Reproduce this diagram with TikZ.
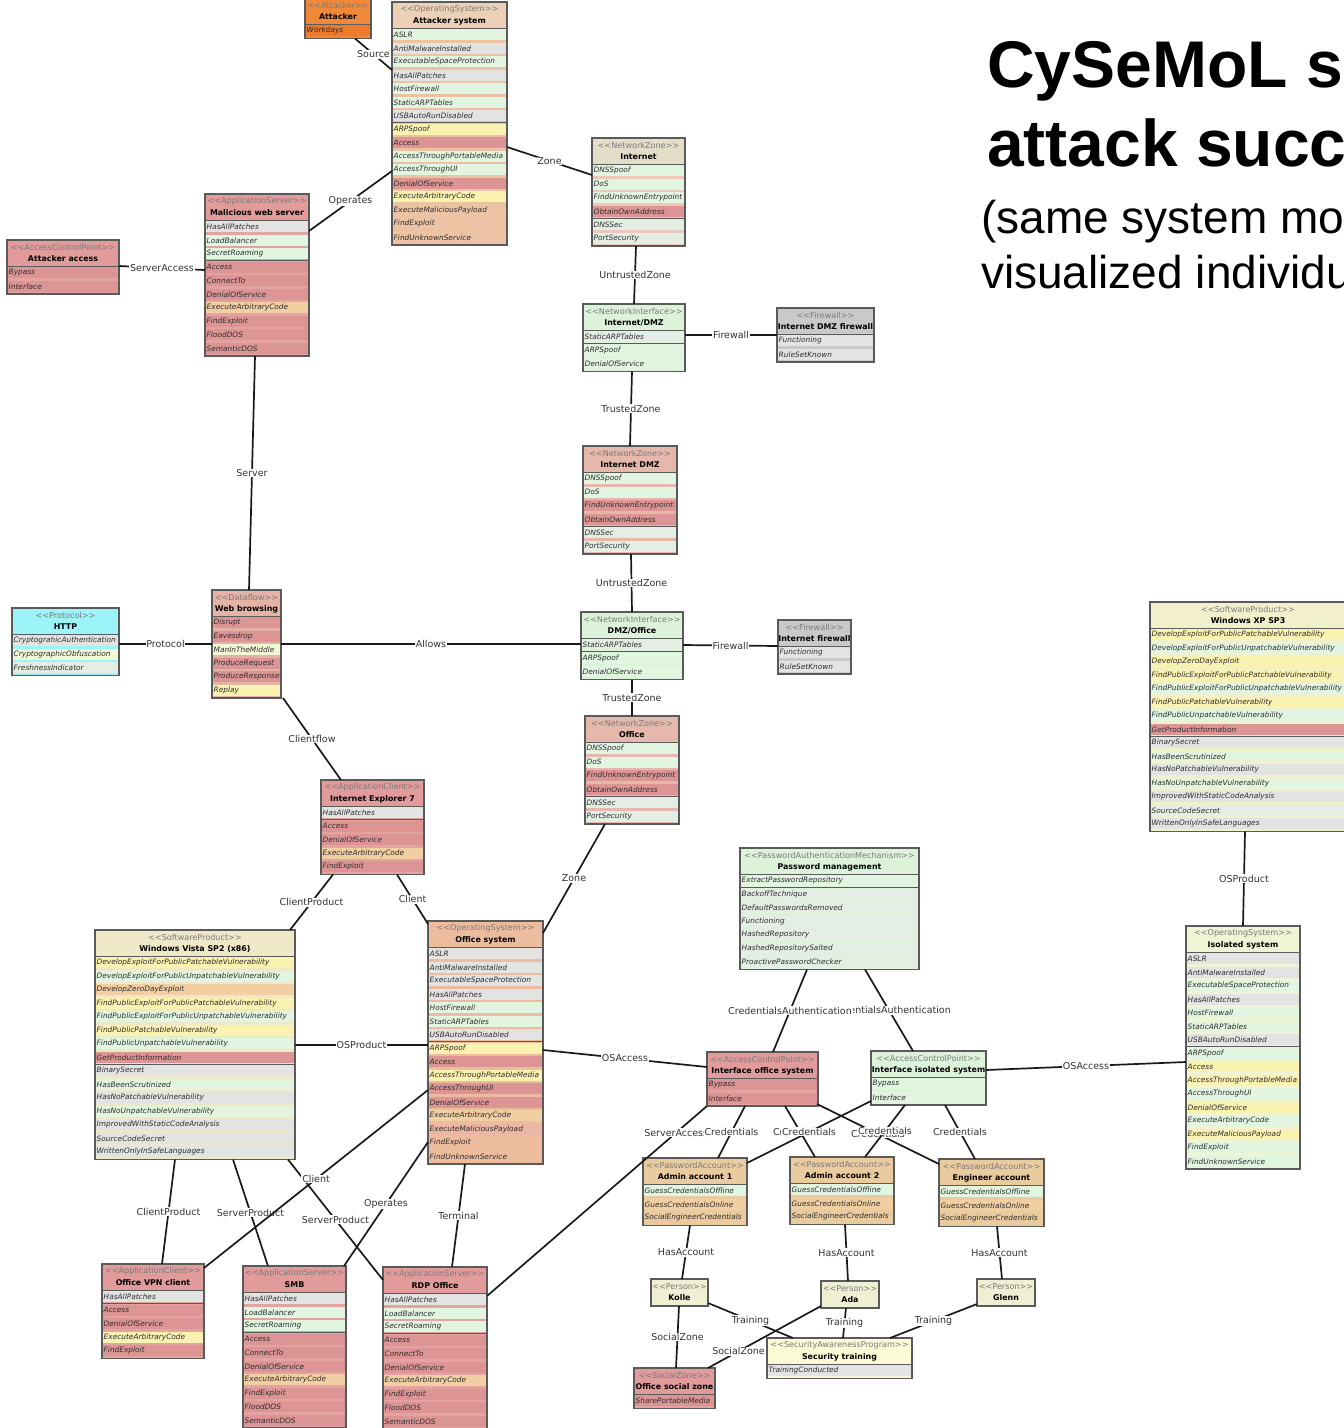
\documentclass[tikz,border=0pt]{standalone}
\usepackage{fontspec}
\usetikzlibrary{calc}
\newfontfamily\boxfont{DejaVu Sans}
\newfontfamily\headfont{Liberation Sans}

% row band colours
\definecolor{rowlg}{HTML}{E2F5E0}
\definecolor{rowgr}{HTML}{E3E3E3}
\definecolor{rowgg}{HTML}{E4EEE4}
\definecolor{rowyl}{HTML}{F9F2B0}
\definecolor{rowrd}{HTML}{DD9494}
\definecolor{rowor}{HTML}{F1CFA3}
\definecolor{rowtn}{HTML}{EDC3A5}
\definecolor{rowly}{HTML}{F3F7D6}
\definecolor{rowsl}{HTML}{EBB6A6}
\definecolor{rowog}{HTML}{F07A2A}
% box body / header colours
\definecolor{orangebody}{HTML}{F0883A}
\definecolor{tanbody}{HTML}{EBC3A3}
\definecolor{tanhead}{HTML}{EDD1B6}
\definecolor{redbody}{HTML}{E3A3A1}
\definecolor{redhead}{HTML}{E09B9A}
\definecolor{zonehead}{HTML}{E4DDC8}
\definecolor{zonebody}{HTML}{EAC9BA}
\definecolor{greenbody}{HTML}{DCF3DA}
\definecolor{greybody}{HTML}{C9C9C9}
\definecolor{salmonbody}{HTML}{E6B8AB}
\definecolor{cyanbody}{HTML}{9CF3F8}
\definecolor{webbody}{HTML}{E5B3A6}
\definecolor{vistabody}{HTML}{EFE8C6}
\definecolor{offsysbody}{HTML}{EDBC9F}
\definecolor{xpbody}{HTML}{F2F0CA}
\definecolor{isobody}{HTML}{F1F4D4}
\definecolor{accbody}{HTML}{E9CB9F}
\definecolor{personbody}{HTML}{F1EFD3}
\definecolor{trainbody}{HTML}{FBFAD7}
\definecolor{edgeink}{HTML}{5A5A5A}
\definecolor{linkink}{HTML}{1A1A1A}
\definecolor{labink}{HTML}{333333}
\definecolor{rowink}{HTML}{2E2E2E}
\definecolor{stink}{HTML}{7A7A7A}

\tikzset{
  rowtext/.style={anchor=west, inner sep=0pt, text=rowink,
    font=\boxfont\itshape\fontsize{7.4}{8}\selectfont},
  stereo/.style={inner sep=0pt, text=stink, font=\boxfont\fontsize{8.1}{9}\selectfont},
  boxtitle/.style={inner sep=0pt, text=black, font=\boxfont\bfseries\fontsize{7.9}{9}\selectfont},
  divider/.style={draw=edgeink, line width=1pt},
  boxedge/.style={draw=edgeink, line width=1.3pt},
  link/.style={draw=linkink, line width=1.7pt},
  lab/.style={fill=white, inner sep=0.8pt, text=labink,
    font=\boxfont\fontsize{9.5}{10}\selectfont},
}

\newcount\nrows
\def\rowpitch{13.5}
% #1 name, #2 top-left x,y, #3 width, #4 body colour, #5 header colour,
% #6 separator after row k (0 = none), #7 stereotype, #8 title, #9 rows colour/text
\newcommand\umlbox[9]{%
  \global\nrows=0
  \if\relax\detokenize{#9}\relax\else
    \foreach \rc/\rt in {#9}{\global\advance\nrows by 1}%
  \fi
  \pgfmathsetmacro\boxh{27+\the\nrows*\rowpitch}%
  \begin{scope}[shift={(#2)}]
    \node[inner sep=0pt, outer sep=0pt, minimum width=#3pt,
      minimum height=\boxh pt, anchor=north west] (#1) at (0,0) {};
    \begin{scope}
      \clip (0,0) rectangle (#3,\boxh);
      \fill[#4] (0,0) rectangle (#3,\boxh);
      \fill[#5] (0,0) rectangle (#3,26);
      \if\relax\detokenize{#9}\relax\else
      \foreach \rc/\rt [count=\ri] in {#9}{
        \fill[\rc] (0,{26+(\ri-1)*\rowpitch+1.2}) rectangle (#3,{26+\ri*\rowpitch-1.3});
        \node[rowtext] at (1.5,{26+(\ri-0.5)*\rowpitch}) {\rt};
      }
      \fi
      \node[stereo] at ({#3/2},7.5) {\textless\kern0pt\textless#7\textgreater\kern0pt\textgreater};
      \node[boxtitle] at ({#3/2},19) {#8};
    \end{scope}
    \ifnum\nrows>0 \draw[divider] (0,26) -- (#3,26);\fi
    \ifnum#6>0 \draw[divider] (0,{26+#6*\rowpitch}) -- (#3,{26+#6*\rowpitch});\fi
    \draw[boxedge] (0,0) rectangle (#3,\boxh);
  \end{scope}
}

% connector: [label position] anchor A, offset A, anchor B, offset B, label
\newcommand\conn[6][0.5]{%
  \draw[link] ($(#2)+(#3)$) -- node[lab, pos=#1]{#6} ($(#4)+(#5)$);
}

\begin{document}
\begin{tikzpicture}[x=1pt,y=-1pt]
\useasboundingbox (0,0) rectangle (1344,1428);
\clip (0,0) rectangle (1344,1428);
\fill[white] (0,0) rectangle (1344,1428);

% ---------- heading ----------
\node[anchor=base west, inner sep=0pt, font=\headfont\bfseries\fontsize{66}{66}\selectfont] (h1) at (987,87) {CySeMoL s};
\node[anchor=base west, inner sep=0pt, font=\headfont\bfseries\fontsize{66}{66}\selectfont] (h2) at (987,166) {attack succ};
\node[anchor=base west, inner sep=0pt, font=\headfont\fontsize{46}{46}\selectfont] (h3) at (981,233) {(same system mo};
\node[anchor=base west, inner sep=0pt, font=\headfont\fontsize{46}{46}\selectfont] (h4) at (981,288) {visualized individu};

% ---------- attacker side ----------
\umlbox{attacker}{305,-2}{66}{orangebody}{orangebody}{0}{Attacker}{Attacker}{rowog/Workdays}
\umlbox{attsys}{392,2}{115}{tanbody}{tanhead}{7}{OperatingSystem}{Attacker system}{rowlg/ASLR, rowgr/AntiMalwareInstalled, rowlg/ExecutableSpaceProtection, rowgr/HasAllPatches, rowlg/HostFirewall, rowlg/StaticARPTables, rowgr/USBAutoRunDisabled, rowyl/ARPSpoof, rowrd/Access, rowlg/AccessThroughPortableMedia, rowlg/AccessThroughUI, rowrd/DenialOfService, rowyl/ExecuteArbitraryCode, rowtn/ExecuteMaliciousPayload, rowtn/FindExploit, rowtn/FindUnknownService}
\umlbox{mws}{205,194}{104}{redbody}{redhead}{3}{ApplicationServer}{Malicious web server}{rowgr/HasAllPatches, rowlg/LoadBalancer, rowlg/SecretRoaming, rowrd/Access, rowrd/ConnectTo, rowrd/DenialOfService, rowor/ExecuteArbitraryCode, rowrd/FindExploit, rowrd/FloodDOS, rowrd/SemanticDOS}
\umlbox{attacc}{7,240}{112}{redbody}{redhead}{0}{AccessControlPoint}{Attacker access}{rowrd/Bypass, rowrd/Interface}

% ---------- network chain ----------
\umlbox{internet}{592,138}{93}{zonebody}{zonehead}{4}{NetworkZone}{Internet}{rowlg/DNSSpoof, rowlg/DoS, rowlg/FindUnknownEntrypoint, rowrd/ObtainOwnAddress, rowgg/DNSSec, rowgg/PortSecurity}
\umlbox{inetdmzif}{583,304}{102}{greenbody}{greenbody}{1}{NetworkInterface}{Internet/DMZ}{rowgg/StaticARPTables, rowlg/ARPSpoof, rowlg/DenialOfService}
\umlbox{fwdmz}{777,308}{97}{greybody}{greybody}{0}{Firewall}{Internet DMZ firewall}{rowgr/Functioning, rowgr/RuleSetKnown}
\umlbox{inetdmz}{583,446}{94}{salmonbody}{salmonbody}{4}{NetworkZone}{Internet DMZ}{rowlg/DNSSpoof, rowlg/DoS, rowrd/FindUnknownEntrypoint, rowrd/ObtainOwnAddress, rowgg/DNSSec, rowgg/PortSecurity}
\umlbox{dmzoff}{581,612}{102}{greenbody}{greenbody}{1}{NetworkInterface}{DMZ/Office}{rowgg/StaticARPTables, rowlg/ARPSpoof, rowlg/DenialOfService}
\umlbox{fwinet}{778,620}{73}{greybody}{greybody}{0}{Firewall}{Internet firewall}{rowgr/Functioning, rowgr/RuleSetKnown}
\umlbox{office}{585,716}{94}{salmonbody}{salmonbody}{4}{NetworkZone}{Office}{rowlg/DNSSpoof, rowlg/DoS, rowrd/FindUnknownEntrypoint, rowrd/ObtainOwnAddress, rowgg/DNSSec, rowgg/PortSecurity}

% ---------- data flow ----------
\umlbox{http}{12,608}{107}{cyanbody}{cyanbody}{0}{Protocol}{HTTP}{rowgr/CryptograhicAuthentication, rowly/CryptographicObfuscation, rowgg/FreshnessIndicator}
\umlbox{webbrowse}{212,590}{69}{webbody}{webbody}{0}{Dataflow}{Web browsing}{rowrd/Disrupt, rowrd/Eavesdrop, rowly/ManInTheMiddle, rowrd/ProduceRequest, rowrd/ProduceResponse, rowyl/Replay}
\umlbox{ie7}{321,780}{103}{redbody}{redhead}{1}{ApplicationClient}{Internet Explorer 7}{rowgr/HasAllPatches, rowrd/Access, rowrd/DenialOfService, rowor/ExecuteArbitraryCode, rowrd/FindExploit}

% ---------- office host ----------
\umlbox{vista}{95,930}{200}{vistabody}{vistabody}{8}{SoftwareProduct}{Windows Vista SP2 (x86)}{rowyl/DevelopExploitForPublicPatchableVulnerability, rowlg/DevelopExploitForPublicUnpatchableVulnerability, rowor/DevelopZeroDayExploit, rowyl/FindPublicExploitForPublicPatchableVulnerability, rowlg/FindPublicExploitForPublicUnpatchableVulnerability, rowyl/FindPublicPatchableVulnerability, rowlg/FindPublicUnpatchableVulnerability, rowrd/GetProductInformation, rowgr/BinarySecret, rowlg/HasBeenScrutinized, rowgr/HasNoPatchableVulnerability, rowlg/HasNoUnpatchableVulnerability, rowgr/ImprovedWithStaticCodeAnalysis, rowgr/SourceCodeSecret, rowgr/WrittenOnlyInSafeLanguages}
\umlbox{offsys}{428,921}{115}{offsysbody}{offsysbody}{7}{OperatingSystem}{Office system}{rowgr/ASLR, rowgr/AntiMalwareInstalled, rowgr/ExecutableSpaceProtection, rowgr/HasAllPatches, rowlg/HostFirewall, rowlg/StaticARPTables, rowgr/USBAutoRunDisabled, rowyl/ARPSpoof, rowrd/Access, rowyl/AccessThroughPortableMedia, rowrd/AccessThroughUI, rowrd/DenialOfService, rowor/ExecuteArbitraryCode, rowsl/ExecuteMaliciousPayload, offsysbody/FindExploit, offsysbody/FindUnknownService}
\umlbox{vpn}{102,1264}{102}{redbody}{redhead}{1}{ApplicationClient}{Office VPN client}{rowgr/HasAllPatches, rowrd/Access, rowrd/DenialOfService, rowyl/ExecuteArbitraryCode, rowrd/FindExploit}
\umlbox{smb}{243,1266}{103}{redbody}{redhead}{3}{ApplicationServer}{SMB}{rowgr/HasAllPatches, rowlg/LoadBalancer, rowlg/SecretRoaming, rowrd/Access, rowrd/ConnectTo, rowrd/DenialOfService, rowor/ExecuteArbitraryCode, rowrd/FindExploit, rowrd/FloodDOS, rowrd/SemanticDOS}
\umlbox{rdp}{383,1267}{104}{redbody}{redhead}{3}{ApplicationServer}{RDP Office}{rowgr/HasAllPatches, rowlg/LoadBalancer, rowlg/SecretRoaming, rowrd/Access, rowrd/ConnectTo, rowrd/DenialOfService, rowor/ExecuteArbitraryCode, rowrd/FindExploit, rowrd/FloodDOS, rowrd/SemanticDOS}

% ---------- authentication ----------
\umlbox{pwm}{740,848}{179}{greenbody}{greenbody}{1}{PasswordAuthenticationMechanism}{Password management}{rowlg/ExtractPasswordRepository, rowgg/BackoffTechnique, rowgg/DefaultPasswordsRemoved, rowgg/Functioning, rowgg/HashedRepository, rowgg/HashedRepositorySalted, rowgg/ProactivePasswordChecker}
\umlbox{ios}{707,1052}{111}{redbody}{redhead}{0}{AccessControlPoint}{Interface office system}{rowrd/Bypass, rowrd/Interface}
\umlbox{iis}{871,1051}{115}{greenbody}{greenbody}{0}{AccessControlPoint}{Interface isolated system}{rowlg/Bypass, rowlg/Interface}

% ---------- isolated host ----------
\umlbox{xp}{1150,602}{196}{xpbody}{xpbody}{8}{SoftwareProduct}{Windows XP SP3}{rowyl/DevelopExploitForPublicPatchableVulnerability, rowlg/DevelopExploitForPublicUnpatchableVulnerability, rowyl/DevelopZeroDayExploit, rowyl/FindPublicExploitForPublicPatchableVulnerability, rowlg/FindPublicExploitForPublicUnpatchableVulnerability, rowyl/FindPublicPatchableVulnerability, rowlg/FindPublicUnpatchableVulnerability, rowrd/GetProductInformation, rowgr/BinarySecret, rowlg/HasBeenScrutinized, rowgr/HasNoPatchableVulnerability, rowlg/HasNoUnpatchableVulnerability, rowgr/ImprovedWithStaticCodeAnalysis, rowgg/SourceCodeSecret, rowgr/WrittenOnlyInSafeLanguages}
\umlbox{isosys}{1186,926}{114}{isobody}{isobody}{7}{OperatingSystem}{Isolated system}{rowgr/ASLR, rowgr/AntiMalwareInstalled, rowlg/ExecutableSpaceProtection, rowgr/HasAllPatches, rowlg/HostFirewall, rowlg/StaticARPTables, rowgr/USBAutoRunDisabled, rowlg/ARPSpoof, rowyl/Access, rowyl/AccessThroughPortableMedia, rowlg/AccessThroughUI, rowyl/DenialOfService, rowlg/ExecuteArbitraryCode, rowyl/ExecuteMaliciousPayload, rowlg/FindExploit, rowlg/FindUnknownService}

% ---------- accounts and people ----------
\umlbox{adm1}{643,1158}{104}{accbody}{accbody}{0}{PasswordAccount}{Admin account 1}{rowlg/GuessCredentialsOffline, rowor/GuessCredentialsOnline, accbody/SocialEngineerCredentials}
\umlbox{adm2}{790,1157}{104}{accbody}{accbody}{0}{PasswordAccount}{Admin account 2}{rowlg/GuessCredentialsOffline, rowor/GuessCredentialsOnline, accbody/SocialEngineerCredentials}
\umlbox{eng}{939,1159}{105}{accbody}{accbody}{0}{PasswordAccount}{Engineer account}{rowlg/GuessCredentialsOffline, rowor/GuessCredentialsOnline, accbody/SocialEngineerCredentials}
\umlbox{kolle}{651,1279}{57}{personbody}{personbody}{0}{Person}{Kolle}{}
\umlbox{ada}{821,1281}{58}{personbody}{personbody}{0}{Person}{Ada}{}
\umlbox{glenn}{977,1279}{58}{personbody}{personbody}{0}{Person}{Glenn}{}
\umlbox{sectrain}{767,1338}{145}{trainbody}{trainbody}{0}{SecurityAwarenessProgram}{Security training}{rowgr/TrainingConducted}
\umlbox{socz}{634,1368}{81}{redbody}{redhead}{0}{SocialZone}{Office social zone}{rowrd/SharePortableMedia}

% ---------- connectors ----------
\conn{attacker.south west}{50,0}{attsys.north west}{0,68}{Source}
\conn{mws.north east}{0,37}{attsys.north west}{0,169}{Operates}
\conn{attsys.north east}{0,145}{internet.north west}{0,37}{Zone}
\conn{attacc.north east}{0,26}{mws.north west}{0,76}{ServerAccess}
\conn{mws.south west}{50,0}{webbrowse.north west}{37,0}{Server}
\conn{internet.south west}{44,0}{inetdmzif.north west}{51,0}{UntrustedZone}
\conn{inetdmzif.north east}{0,31}{fwdmz.north west}{0,27}{Firewall}
\conn{inetdmzif.south west}{49,0}{inetdmz.north west}{47,0}{TrustedZone}
\conn{inetdmz.south west}{48,0}{dmzoff.north west}{51,0}{UntrustedZone}
\conn{dmzoff.north east}{0,33}{fwinet.north west}{0,26}{Firewall}
\conn{dmzoff.south west}{51,0}{office.north west}{47,0}{TrustedZone}
\conn{http.north east}{0,36}{webbrowse.north west}{0,54}{Protocol}
\conn{webbrowse.north east}{0,54}{dmzoff.north west}{0,32}{Allows}
\conn{webbrowse.south east}{2,0}{ie7.north west}{20,0}{Clientflow}
\conn{ie7.south west}{12,0}{vista.north east}{-5,0}{ClientProduct}
\conn{ie7.south west}{76,0}{offsys.north west}{0,3}{Client}
\conn{office.south west}{20,0}{offsys.north east}{0,12}{Zone}
\conn{vista.north east}{0,115}{offsys.north west}{0,124}{OSProduct}
\conn{offsys.north east}{0,129}{ios.north west}{0,15}{OSAccess}
\conn{pwm.south west}{125,0}{iis.north west}{42,0}{CredentialsAuthentication}
\conn{pwm.south west}{67,0}{ios.north west}{66,0}{CredentialsAuthentication}
\conn{iis.north east}{0,19}{isosys.north west}{0,136}{OSAccess}
\conn{xp.south west}{95,0}{isosys.north west}{57,0}{OSProduct}
\conn{vista.south west}{80,0}{vpn.north west}{60,0}{ClientProduct}
\conn{vista.south west}{138,0}{smb.north west}{25,0}{ServerProduct}
\conn{vista.south east}{-7,0}{rdp.north west}{0,13}{ServerProduct}
\conn{offsys.north west}{0,169}{vpn.north east}{0,4}{Client}
\conn{offsys.north west}{0,221}{smb.north east}{-2,0}{Operates}
\conn{offsys.south west}{37,0}{rdp.north west}{69,0}{Terminal}
\conn[0.86]{rdp.north east}{0,29}{ios.south west}{0,0}{ServerAccess}
\conn{ios.south west}{38,0}{adm1.north west}{75,0}{Credentials}
\conn{ios.south west}{78,0}{adm2.north west}{25,0}{Credentials}
\conn{ios.south east}{-1,-2}{eng.north west}{0,5}{Credentials}
\conn{iis.south west}{0,-4}{adm1.north east}{0,5}{Credentials}
\conn{iis.south west}{34,0}{adm2.north west}{75,0}{Credentials}
\conn{iis.south west}{74,0}{eng.north west}{36,0}{Credentials}
\conn{adm1.south west}{47,0}{kolle.north west}{31,0}{HasAccount}
\conn{adm2.south west}{55,0}{ada.north west}{27,0}{HasAccount}
\conn{eng.south west}{58,0}{glenn.north west}{25,0}{HasAccount}
\conn{kolle.south east}{0,-3}{sectrain.north west}{26,0}{Training}
\conn{ada.south west}{25,0}{sectrain.north west}{76,0}{Training}
\conn{glenn.south west}{0,-2}{sectrain.north west}{123,0}{Training}
\conn{kolle.south west}{28,0}{socz.north west}{42,0}{SocialZone}
\conn[0.73]{ada.south west}{0,-2}{socz.north east}{-7,0}{SocialZone}
\end{tikzpicture}
\end{document}
